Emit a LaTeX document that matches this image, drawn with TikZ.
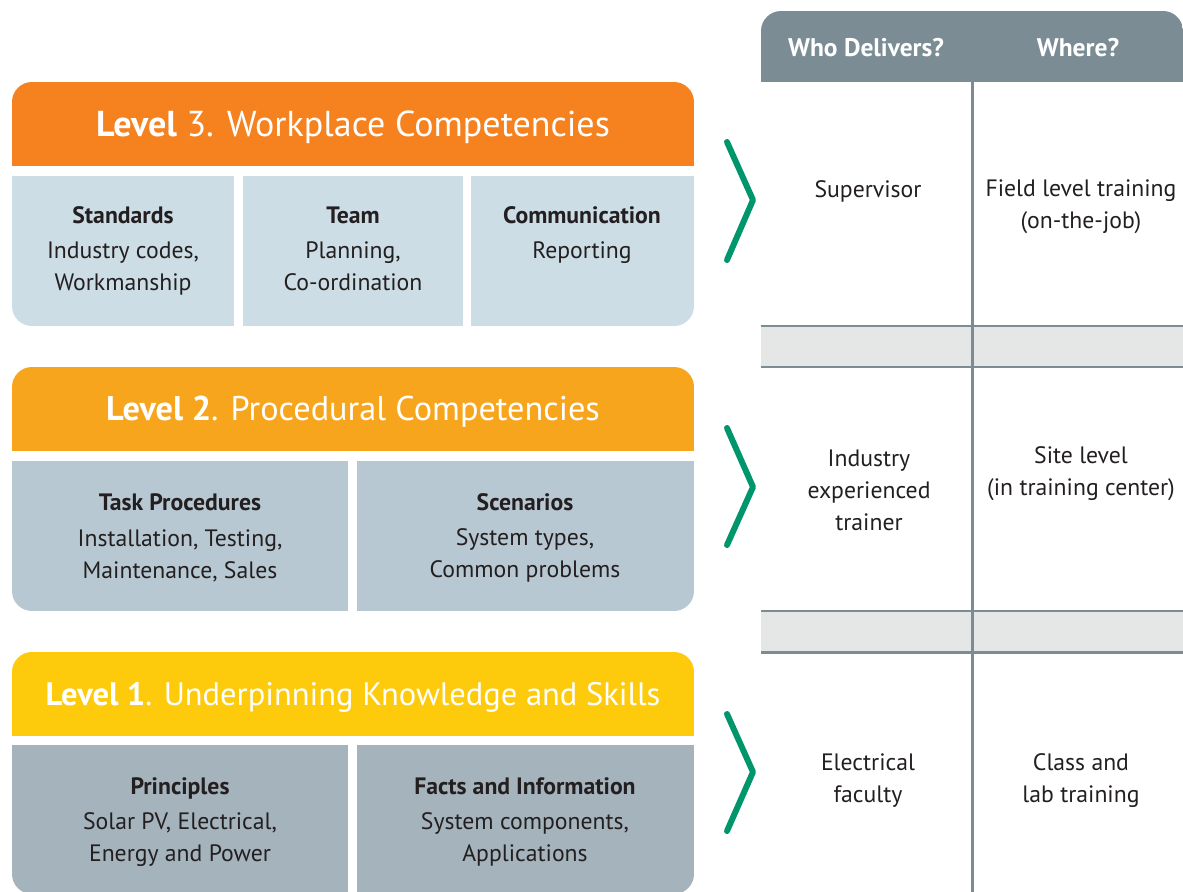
\documentclass[tikz,border=0pt]{standalone}
\usepackage{fontspec}
\setmainfont{PT Sans}
\definecolor{lvlthree}{HTML}{F5821F}
\definecolor{lvltwo}{HTML}{F7A51D}
\definecolor{lvlone}{HTML}{FDCB0B}
\definecolor{boxthree}{HTML}{CCDDE5}
\definecolor{boxtwo}{HTML}{B8C8D2}
\definecolor{boxone}{HTML}{A5B3BC}
\definecolor{tablegray}{HTML}{7B8C95}
\definecolor{bandgray}{HTML}{E5E7E6}
\definecolor{chevgreen}{HTML}{00966C}
\definecolor{inkdark}{HTML}{231F20}

\begin{document}
\begin{tikzpicture}[x=0.02cm,y=-0.02cm,
  headtxt/.style={text=white,inner sep=0pt,font=\fontsize{19.5}{23}\selectfont},
  celltxt/.style={align=center,text=inkdark,inner sep=0pt,font=\fontsize{13.5}{18.2}\selectfont},
  thtxt/.style={text=white,inner sep=0pt,font=\fontsize{14.5}{17}\selectfont\bfseries},
  chevron/.style={chevgreen,line width=3.4pt,line cap=round,line join=round},
  rule/.style={tablegray,line width=1.7pt}]
\useasboundingbox (0,0) rectangle (1183,892);
\begin{scope}
\clip[rounded corners=0.4cm] (12,82) rectangle (694,326);
\fill[lvlthree] (12,82) rectangle (694,166);
\fill[boxthree] (12,176) rectangle (234,326);
\fill[boxthree] (243,176) rectangle (463,326);
\fill[boxthree] (471,176) rectangle (694,326);
\end{scope}
\begin{scope}
\clip[rounded corners=0.4cm] (12,367) rectangle (694,611);
\fill[lvltwo] (12,367) rectangle (694,451);
\fill[boxtwo] (12,461) rectangle (348,611);
\fill[boxtwo] (357,461) rectangle (694,611);
\end{scope}
\begin{scope}
\clip[rounded corners=0.4cm] (12,652) rectangle (694,894);
\fill[lvlone] (12,652) rectangle (694,736);
\fill[boxone] (12,745) rectangle (348,894);
\fill[boxone] (357,745) rectangle (694,894);
\end{scope}
\begin{scope}
\clip[rounded corners=0.4cm] (761,11) rectangle (1183,950);
\fill[tablegray] (761,11) rectangle (1183,82);
\end{scope}
\fill[bandgray] (761,326) rectangle (1183,367);
\fill[bandgray] (761,611) rectangle (1183,652);
\draw[rule] (761,326) -- (1183,326);
\draw[rule] (761,367) -- (1183,367);
\draw[rule] (761,611) -- (1183,611);
\draw[rule] (761,652) -- (1183,652);
\draw[rule] (972,82) -- (972,892);
\draw[chevron] (727,142) -- (753,200) -- (727,260);
\draw[chevron] (727,428) -- (753,487) -- (727,545);
\draw[chevron] (727,714) -- (753,772) -- (727,831);
\node[headtxt,font=\fontsize{20.5}{24}\selectfont] (lvl3) at (353,127) {\textbf{Level} 3. Workplace Competencies};
\node[headtxt] (lvl2) at (353,412) {\textbf{Level 2}. Procedural Competencies};
\node[headtxt,font=\fontsize{18.5}{22}\selectfont] (lvl1) at (353,697) {\textbf{Level 1}. Underpinning Knowledge and Skills};
\node[celltxt] (standards) at (123,251) {\textbf{Standards}\\[2pt]Industry codes,\\Workmanship};
\node[celltxt] (team) at (353,249) {\textbf{Team}\\[2pt]Planning,\\Co-ordination};
\node[celltxt] (comm) at (582,235) {\textbf{Communication}\\[2pt]Reporting};
\node[celltxt] (tasks) at (180,538) {\textbf{Task Procedures}\\[2pt]Installation, Testing,\\Maintenance, Sales};
\node[celltxt] (scen) at (525,538) {\textbf{Scenarios}\\[2pt]System types,\\Common problems};
\node[celltxt] (princ) at (180,822) {\textbf{Principles}\\[2pt]Solar PV, Electrical,\\Energy and Power};
\node[celltxt] (facts) at (525,822) {\textbf{Facts and Information}\\[2pt]System components,\\Applications};
\node[thtxt] (who) at (866,48) {Who Delivers?};
\node[thtxt] (where) at (1078,48) {Where?};
\node[celltxt] (super) at (868,191) {Supervisor};
\node[celltxt] (field) at (1081,207) {Field level training\\(on-the-job)};
\node[celltxt] (trainer) at (869,490) {Industry\\experienced\\trainer};
\node[celltxt] (site) at (1081,474) {Site level\\(in training center)};
\node[celltxt] (faculty) at (868,781) {Electrical\\faculty};
\node[celltxt] (classlab) at (1081,781) {Class and\\lab training};
\end{tikzpicture}
\end{document}
